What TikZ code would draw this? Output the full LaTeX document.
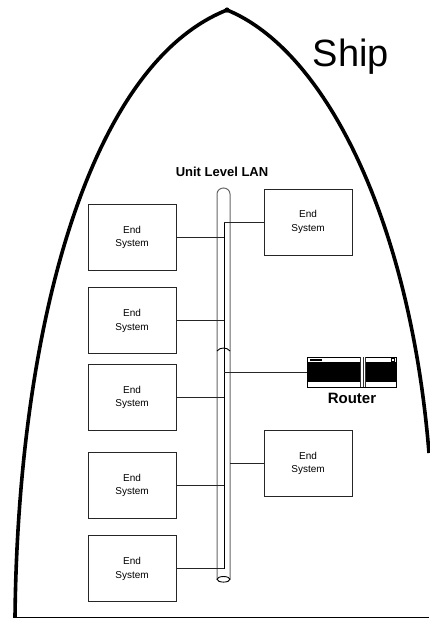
\documentclass[tikz,border=0pt]{standalone}
\usepackage{fontspec}
\setmainfont{Liberation Sans}
\tikzset{
 endsys/.style={draw=black!85,line width=.9pt,minimum width=88pt,minimum height=66pt,inner sep=0pt,align=center,font=\fontsize{10}{13.3}\selectfont},
 link/.style={draw=black!85,line width=.9pt}
}
\begin{document}
\begin{tikzpicture}[x=1pt,y=-1pt]
\useasboundingbox (0,0) rectangle (429,618);
% hull
\draw[line width=3.6pt] (15,617) .. controls (18,330) and (88,65) .. (227,10);
\draw[line width=3.6pt] (227,10) .. controls (325,50) and (410,220) .. (429,453);
\fill (227,10) circle[radius=2.6pt];
\draw[line width=1pt] (13,617.3)--(429,617.3);
\node[font=\fontsize{38}{38}\selectfont] (ship) at (351,57) {Ship};
% cable
\draw[black!60,line width=1pt] (217,579)--(217,194) arc[start angle=180,end angle=360,x radius=6.5,y radius=6]--(230,579);
\draw[black,line width=.9pt] (217,351) .. controls (220,347) and (227,347) .. (230,351);
\draw[black,fill=white,line width=.9pt] (223.5,579.3) ellipse[x radius=6.5,y radius=2.8];
\node[font=\fontsize{13}{13}\selectfont\bfseries] (lan) at (222,172) {Unit Level LAN};
\coordinate (bus) at (224,222);
\coordinate (busend) at (224,569);
\coordinate (wall) at (230,464);
\draw[black,line width=.9pt] (bus)--(busend);
% end systems
\foreach \n/\x/\y in {a/132/237.2,b/132/320.8,c/132/397.4,d/132/485.3,e/132/568.8,f/308/222,g/308/463.5}{
 \node[endsys] (es\n) at (\x,\y) {End\\System};
}
\foreach \n in {a,b,c,d,e,f}{\draw[link] (es\n) -- (es\n -| bus);}
\draw[link] (esg) -- (esg -| wall);
% router
\node[draw=black,line width=.9pt,minimum width=89pt,minimum height=30pt,inner sep=0pt] (router) at (352.2,372) {};
\fill (308,361.7) rectangle (396.5,382.3);
\fill[white] (360,357.4) rectangle (366,386.6);
\draw[black!80,line width=.8pt] (360.3,357)--(360.3,387) (363,357)--(363,387) (365.7,357)--(365.7,387);
\fill (310,359) rectangle (322,361);
\draw[line width=.5pt] (391,358.5) rectangle (394,361);
\node[font=\fontsize{15}{15}\selectfont\bfseries] (rlabel) at (352,398) {Router};
\draw[link] (router) -- (router -| bus);
\end{tikzpicture}
\end{document}
